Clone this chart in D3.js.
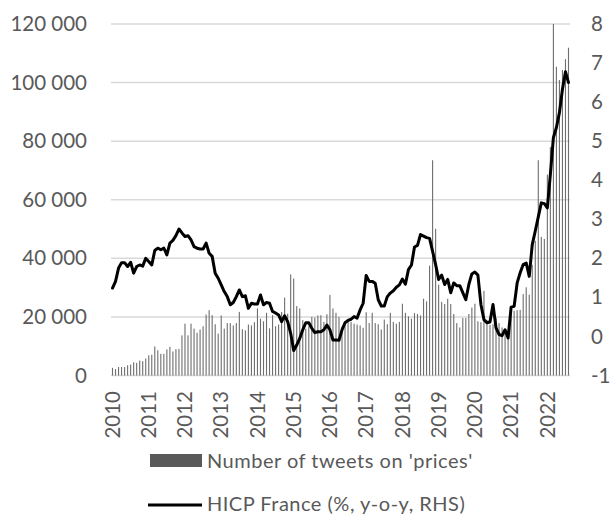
<!DOCTYPE html>
<html><head><meta charset="utf-8">
<script src="https://cdn.jsdelivr.net/npm/d3@7"></script>
<style>html,body{margin:0;padding:0;background:#fff;}svg{display:block;}</style>
</head><body>
<svg id="chart" width="613" height="515"></svg>
<script>
// ---- data ----
const startYear = 2010;
const monthCount = 152; // Jan 2010 .. Aug 2022
const categories = d3.range(monthCount).map(i => `${startYear + Math.floor(i / 12)}-${String(i % 12 + 1).padStart(2, "0")}`);
const yearLabels = ["2010","2011","2012","2013","2014","2015","2016","2017","2018","2019","2020","2021","2022"];
const tweets = [
  2600,2200,2900,2900,2900,3500,3700,4500,4300,5100,4900,5800,
  6900,7100,9900,8600,7400,7400,8900,9800,8200,9000,9100,13700,
  17700,13700,17700,16000,14600,15700,16800,20800,22300,20600,17500,14300,
  20500,16000,17900,17900,17100,17900,21700,15800,15400,17400,17100,18200,
  22900,19400,18500,21400,16100,20600,16800,17400,21700,26600,21100,34500,
  33100,23700,22900,18900,16000,16800,20000,19800,20500,20600,18300,20900,
  27500,22900,21400,20000,16600,18600,19100,18300,17700,17400,17100,16300,
  21600,17900,21400,17900,17500,15700,19100,17500,21400,18300,17700,18300,
  24500,21400,20200,19400,21300,21000,20500,26200,25300,37500,73500,50100,
  31000,25100,24400,26200,24400,21000,17900,16400,19600,19600,21000,23200,
  24500,18500,18200,28900,19000,17300,17500,19600,17900,16400,15600,13300,
  21900,22100,22300,22400,27800,30100,27600,37800,46000,73500,47300,46600,
  68600,78000,120000,105400,100900,104300,108000,111900
];
const hicp = [
  1.24,1.41,1.75,1.89,1.89,1.79,1.90,1.62,1.79,1.83,1.80,2.00,
  1.92,1.83,2.20,2.26,2.22,2.26,2.09,2.39,2.46,2.58,2.75,2.65,
  2.56,2.58,2.47,2.30,2.26,2.24,2.24,2.39,2.13,2.05,1.62,1.49,
  1.32,1.15,1.02,0.81,0.87,1.02,1.19,1.02,1.04,0.72,0.85,0.83,
  0.83,1.06,0.81,0.87,0.85,0.64,0.60,0.55,0.38,0.53,0.38,0.08,
  -0.36,-0.22,-0.05,0.17,0.35,0.35,0.21,0.10,0.12,0.12,0.17,0.29,
  0.17,-0.09,-0.09,-0.10,0.17,0.35,0.41,0.44,0.51,0.47,0.68,0.85,
  1.56,1.41,1.41,1.36,0.94,0.78,0.78,1.02,1.11,1.17,1.26,1.32,
  1.47,1.34,1.71,1.83,2.29,2.33,2.61,2.57,2.53,2.51,2.18,1.84,
  1.46,1.57,1.33,1.46,1.12,1.37,1.30,1.30,1.12,0.94,1.33,1.60,
  1.65,1.57,0.82,0.43,0.35,0.37,0.82,0.22,0.05,0.02,0.17,-0.04,
  0.75,0.77,1.37,1.63,1.84,1.88,1.54,2.35,2.70,3.06,3.42,3.40,
  3.29,4.15,5.09,5.35,5.73,6.33,6.78,6.50
];
const leftTicks = [0,20000,40000,60000,80000,100000,120000];
const rightTicks = [-1,0,1,2,3,4,5,6,7,8];
const seriesNames = ["Number of tweets on 'prices'", "HICP France (%, y-o-y, RHS)"];

// ---- chart ----
const svg = d3.select("#chart");
const FONT = "Lato, 'Open Sans', sans-serif";
const TXT = "#595959";
const plot = {left: 111, right: 570, top: 24, bottom: 375.5};

const x = d3.scaleBand().domain(categories).range([plot.left, plot.right]).padding(0);
const yL = d3.scaleLinear().domain([0, 120000]).range([plot.bottom, plot.top]);
const yR = d3.scaleLinear().domain([-1, 8]).range([plot.bottom, plot.top]);
const fmt = v => d3.format(",")(v).replace(/,/g, " ");

// gridlines
svg.append("g").selectAll("line").data(leftTicks).join("line")
  .attr("x1", plot.left).attr("x2", plot.right)
  .attr("y1", d => yL(d)).attr("y2", d => yL(d))
  .attr("stroke", "#d9d9d9").attr("stroke-width", 1.5);

// bars
const bw = 1.1;
svg.append("g").selectAll("rect").data(tweets).join("rect")
  .attr("x", (d, i) => x(categories[i]) + x.bandwidth() / 2 - bw / 2)
  .attr("width", bw)
  .attr("y", d => yL(d))
  .attr("height", d => yL(0) - yL(d))
  .attr("fill", "#6e6e6e");

// line
const line = d3.line()
  .x((d, i) => x(categories[i]) + x.bandwidth() / 2)
  .y(d => yR(d));
svg.append("path").datum(hicp)
  .attr("d", line)
  .attr("fill", "none").attr("stroke", "#000").attr("stroke-width", 3)
  .attr("stroke-linejoin", "round").attr("stroke-linecap", "round");

// left axis
const axL = d3.axisLeft(yL).tickValues(leftTicks).tickFormat(fmt).tickSize(0).tickPadding(0);
const gL = svg.append("g").attr("transform", `translate(87,0)`).call(axL);
gL.select(".domain").remove();
gL.selectAll("text").attr("font-family", FONT).attr("font-size", 20.5).attr("fill", TXT);

// right axis
const axR = d3.axisRight(yR).tickValues(rightTicks).tickFormat(d => String(d)).tickSize(0).tickPadding(0);
const gR = svg.append("g").attr("transform", `translate(591,0)`).call(axR);
gR.select(".domain").remove();
gR.selectAll("text").attr("font-family", FONT).attr("font-size", 20.5).attr("fill", TXT);

// x axis: year labels at January of each year
const axX = d3.axisBottom(x)
  .tickValues(yearLabels.map(y => `${y}-01`))
  .tickFormat(d => d.slice(0, 4)).tickSize(0).tickPadding(0);
const gX = svg.append("g").attr("transform", `translate(0,391)`).call(axX);
gX.select(".domain").remove();
gX.selectAll("text")
  .attr("font-family", FONT).attr("font-size", 20.5).attr("fill", TXT)
  .attr("text-anchor", "end")
  .attr("transform", "rotate(-90)")
  .attr("x", 0).attr("y", 0).attr("dy", "0.35em");

// legend
const lg = svg.append("g");
lg.append("rect").attr("x", 150).attr("y", 454).attr("width", 52).attr("height", 13).attr("fill", "#595959");
lg.append("text").attr("x", 207).attr("y", 460.5).attr("dy", "0.35em")
  .attr("font-family", FONT).attr("font-size", 20).attr("letter-spacing", 0.5).attr("fill", TXT).text(seriesNames[0]);
lg.append("line").attr("x1", 148).attr("x2", 202).attr("y1", 505).attr("y2", 505)
  .attr("stroke", "#000").attr("stroke-width", 3);
lg.append("text").attr("x", 207).attr("y", 503.5).attr("dy", "0.35em")
  .attr("font-family", FONT).attr("font-size", 20).attr("letter-spacing", 0.5).attr("fill", TXT).text(seriesNames[1]);
</script>
</body></html>
